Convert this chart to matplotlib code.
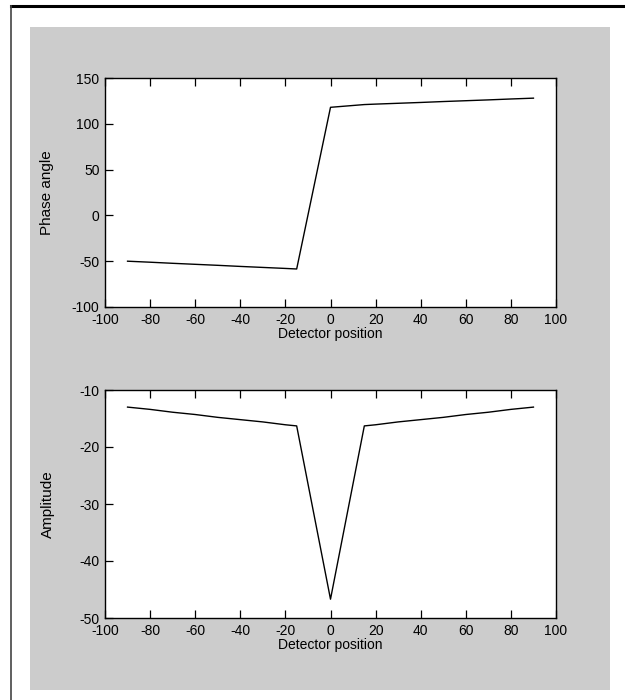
import matplotlib
matplotlib.use("Agg")
import matplotlib.pyplot as plt
from matplotlib.patches import Rectangle
from matplotlib.lines import Line2D

# detector positions
pos = [-90, -80, -70, -60, -50, -40, -30, -20, -15, 0, 15, 20, 30, 40, 50, 60, 70, 80, 90]

# phase angle (deg)
phase = [-50.0, -51.1, -52.3, -53.4, -54.5, -55.7, -56.8, -57.9, -58.5,
         118.0, 121.0, 121.5, 122.4, 123.3, 124.3, 125.2, 126.1, 127.1, 128.0]

# amplitude
amp = [-13.0, -13.4, -13.9, -14.3, -14.8, -15.2, -15.6, -16.1, -16.3,
       -46.7, -16.3, -16.1, -15.6, -15.2, -14.8, -14.3, -13.9, -13.4, -13.0]

xticks = [-100, -80, -60, -40, -20, 0, 20, 40, 60, 80, 100]
phase_ticks = [-100, -50, 0, 50, 100, 150]
amp_ticks = [-50, -40, -30, -20, -10]

plt.rcParams['font.family'] = ['Liberation Sans Narrow', 'Liberation Sans', 'DejaVu Sans']
plt.rcParams['font.size'] = 9
plt.rcParams['axes.unicode_minus'] = False

fig = plt.figure(figsize=(6.25, 7), dpi=100)
fig.patch.set_facecolor('white')

# grey figure area and the page border lines
fig.patches.append(Rectangle((30/625, 1-690/700), 580/625, 663/700,
                             transform=fig.transFigure, facecolor='#cccccc',
                             edgecolor='none', zorder=-5))
fig.lines.append(Line2D([11/625, 1], [1-5.5/700, 1-5.5/700], transform=fig.transFigure,
                        color='black', lw=2.2, zorder=-4))
fig.lines.append(Line2D([11/625, 11/625], [0, 1-5.5/700], transform=fig.transFigure,
                        color='#444444', lw=1.2, zorder=-4))

ax1 = fig.add_axes([105/625, 1-307/700, 451/625, 229/700])
ax2 = fig.add_axes([105/625, 1-618/700, 451/625, 228/700])

def style(ax, yt):
    ax.set_facecolor('white')
    ax.set_xlim(-100, 100)
    ax.set_xticks(xticks)
    ax.set_yticks(yt)
    ax.set_ylim(yt[0], yt[-1])
    ax.tick_params(direction='in', length=6, width=0.9, top=True, right=False,
                   labelsize=10, colors='black')
    ax.tick_params(axis='x', pad=4)
    ax.tick_params(axis='y', pad=4)
    for s in ax.spines.values():
        s.set_linewidth(1.0)
        s.set_color('black')
    ax.set_xlabel('Detector position', fontsize=10, labelpad=0)

ax1.plot(pos, phase, color='black', lw=1.0)
style(ax1, phase_ticks)
ax1.set_ylabel('Phase angle', fontsize=11)
ax1.yaxis.set_label_coords(-0.113, 0.5)

ax2.plot(pos, amp, color='black', lw=1.0)
style(ax2, amp_ticks)
ax2.set_ylabel('Amplitude', fontsize=11)
ax2.yaxis.set_label_coords(-0.11, 0.5)

fig.savefig('out.png', dpi=100)
